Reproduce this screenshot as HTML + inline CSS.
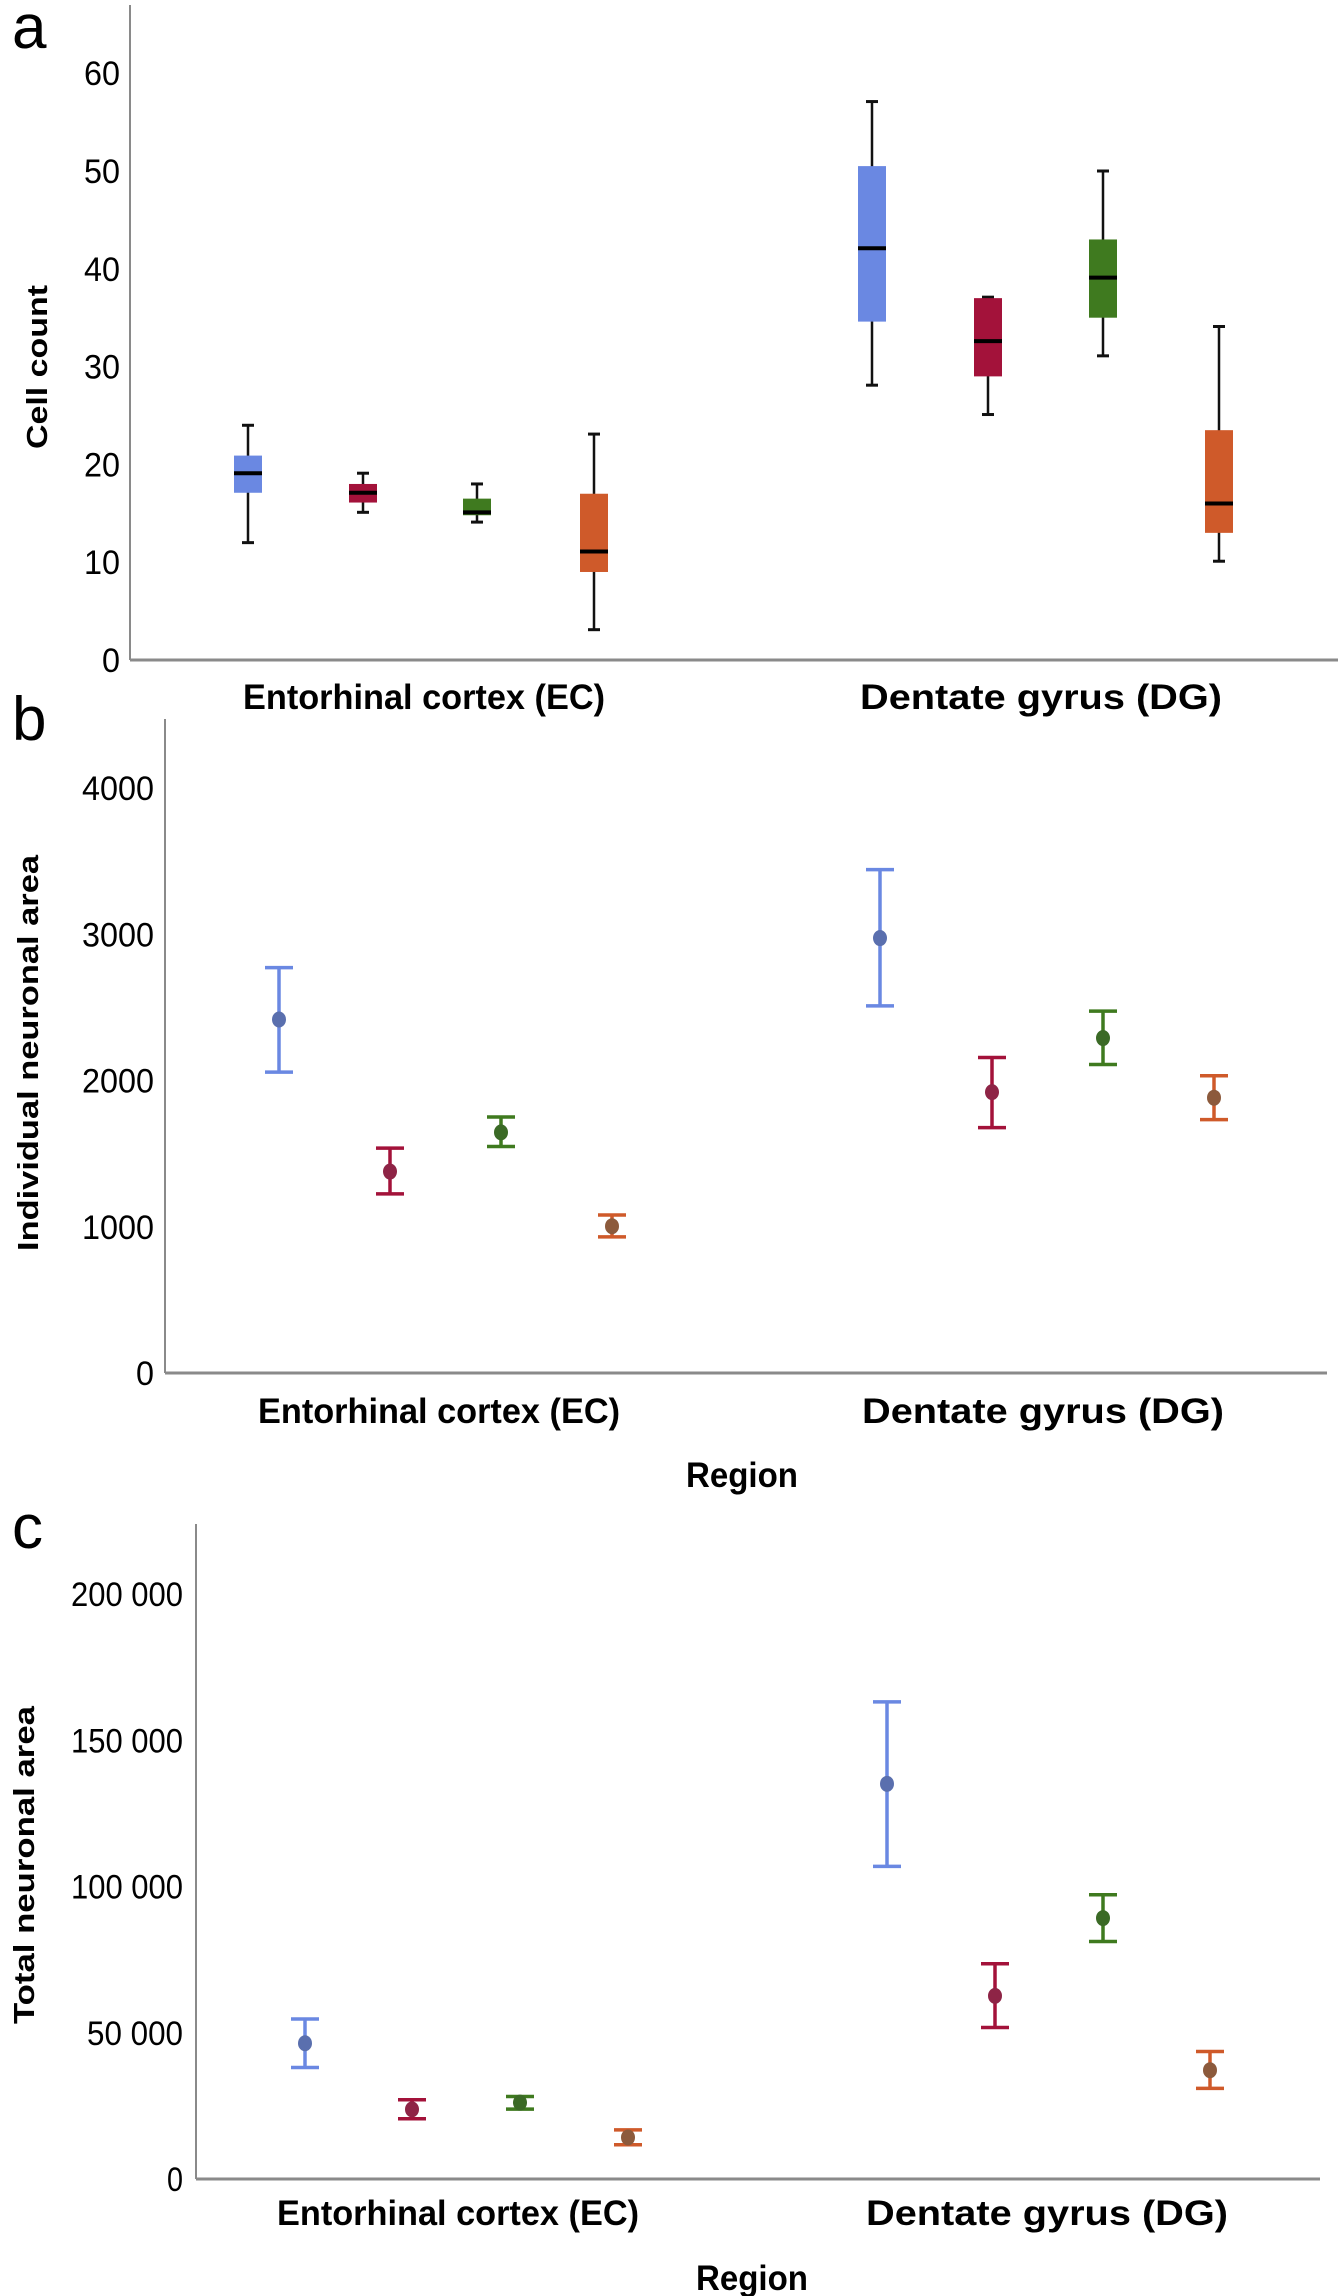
<!DOCTYPE html>
<html><head><meta charset="utf-8"><style>
html,body{margin:0;padding:0;background:#fff;}
svg{display:block;}
text{font-family:"Liberation Sans",Arial,sans-serif;fill:#000;}
</style></head><body>
<svg id="fig" width="1341" height="2296" viewBox="0 0 1341 2296" xmlns="http://www.w3.org/2000/svg"></svg>
<script>
// ---- Panel a data (box plots) ----
const aCategories = ["Entorhinal cortex (EC)", "Dentate gyrus (DG)"];
const aTicks = [0, 10, 20, 30, 40, 50, 60];
const aMin    = [12.0, 15.1, 14.1, 3.1, 28.1, 25.1, 31.1, 10.1];
const aQ1     = [17.1, 16.1, 14.8, 9.0, 34.6, 29.0, 35.0, 13.0];
const aMedian = [19.1, 17.1, 15.1, 11.1, 42.1, 32.6, 39.1, 16.0];
const aQ3     = [20.9, 18.0, 16.5, 17.0, 50.5, 37.0, 43.0, 23.5];
const aMax    = [24.0, 19.1, 18.0, 23.1, 57.1, 37.1, 50.0, 34.1];
// ---- Panel b data (mean ± error) ----
const bTicks = [0, 1000, 2000, 3000, 4000];
const bMean = [2418, 1378, 1646, 1004, 2975, 1921, 2291, 1883];
const bLow  = [2058, 1225, 1549, 931, 2511, 1678, 2110, 1733];
const bHigh = [2773, 1538, 1751, 1081, 3443, 2158, 2475, 2033];
// ---- Panel c data ----
const cTicks = [0, 50000, 100000, 150000, 200000];
const cTickLabels = ["0", "50 000", "100 000", "150 000", "200 000"];
const cMean = [46400, 23800, 26100, 14200, 135100, 62600, 89200, 37200];
const cLow  = [38100, 20600, 23900, 11700, 106900, 51800, 81200, 31000];
const cHigh = [54700, 27100, 28200, 16800, 163100, 73600, 97200, 43600];

const colors = ["#6a88e2", "#a3123a", "#3f7a1f", "#cf5a2a"];
const dotColors = ["#5a6fae", "#8e2446", "#3b6a26", "#8c5a3c"];
const NS = "http://www.w3.org/2000/svg";
const svg = document.getElementById("fig");
function el(tag, attrs, parent) {
  const e = document.createElementNS(NS, tag);
  for (const k in attrs) e.setAttribute(k, attrs[k]);
  (parent || svg).appendChild(e);
  return e;
}
function txt(s, attrs, parent) { const t = el("text", attrs, parent); t.textContent = s; return t; }

function panel(cfg) {
  const g = el("g", {});
  
  
  const y = v => cfg.y0 - (v - 0) * cfg.pxPerUnit;
  const L = txt(cfg.letter, {x: 12, y: cfg.letterY, "font-size": 62}, g);
  
  
  const ya = el("line", {x1: cfg.ax, y1: cfg.axTop, x2: cfg.ax, y2: cfg.y0, stroke: "#8a8a8a", "stroke-width": 2}, g);
  
  
  const xa = el("line", {x1: cfg.ax, y1: cfg.y0, x2: cfg.axRight, y2: cfg.y0, stroke: "#8a8a8a", "stroke-width": 3}, g);
  
  
  cfg.ticks.forEach((t, i) => {
    const lab = cfg.tickLabels ? cfg.tickLabels[i] : String(t);
    const w = lab.length * cfg.charW;
    const tt = txt(lab, {x: cfg.tickRight, y: y(t) + 12, "font-size": 34, "text-anchor": "end", textLength: w, lengthAdjust: "spacingAndGlyphs"}, g);
    
    
  });
  const yt = txt(cfg.yTitle, {x: 0, y: 0, "font-size": 29, "font-weight": "bold", "text-anchor": "middle", transform: `translate(${cfg.yTitleX},${cfg.yTitleY}) rotate(-90)`, textLength: cfg.yTitleLen, lengthAdjust: "spacingAndGlyphs"}, g);
  
  
  aCategories.forEach((c, i) => {
    const ct = txt(c, {x: cfg.catX[i], y: cfg.catY, "font-size": 35, "font-weight": "bold", "text-anchor": "middle", textLength: 362, lengthAdjust: "spacingAndGlyphs"}, g);
    
    
  });
  if (cfg.regionY) {
    const rt = txt("Region", {x: cfg.regionX, y: cfg.regionY, "font-size": 35, "font-weight": "bold", "text-anchor": "middle", textLength: 112, lengthAdjust: "spacingAndGlyphs"}, g);
    
    
  }
  return {g, y};
}

const pa = panel({name: "panel-a-cell-count", letter: "a", letterY: 48, ax: 130, axTop: 5, axRight: 1338, y0: 660, pxPerUnit: 9.78,
  ticks: aTicks, charW: 18, tickRight: 120, yTitle: "Cell count", yTitleX: 47, yTitleY: 367, yTitleLen: 164,
  catX: [424, 1041], catY: 709});
const aX = [248, 363, 477, 594, 872, 988, 1103, 1219];
aMedian.forEach((m, i) => {
  const y = pa.y, x = aX[i], c = colors[i % 4];
  const w = el("line", {x1: x, y1: y(aMax[i]), x2: x, y2: y(aMin[i]), stroke: "#111", "stroke-width": 2.5}, pa.g);
  
  
  [aMax[i], aMin[i]].forEach(v => {
    const cap = el("line", {x1: x - 6, y1: y(v), x2: x + 6, y2: y(v), stroke: "#111", "stroke-width": 3}, pa.g);
    
    
  });
  const b = el("rect", {x: x - 14, y: y(aQ3[i]), width: 28, height: y(aQ1[i]) - y(aQ3[i]), fill: c}, pa.g);
  
  
  const md = el("line", {x1: x - 14, y1: y(m), x2: x + 14, y2: y(m), stroke: "#000", "stroke-width": 4}, pa.g);
  
  
});

function errPanel(p, xs, mean, lo, hi) {
  mean.forEach((m, i) => {
    const y = p.y, x = xs[i], c = colors[i % 4];
    const ln = el("line", {x1: x, y1: y(hi[i]), x2: x, y2: y(lo[i]), stroke: c, "stroke-width": 3.5}, p.g);
    
    
    [hi[i], lo[i]].forEach(v => {
      const cap = el("line", {x1: x - 14, y1: y(v), x2: x + 14, y2: y(v), stroke: c, "stroke-width": 3.5}, p.g);
      
      
    });
    const d = el("ellipse", {cx: x, cy: y(m), rx: 7, ry: 8, fill: dotColors[i % 4]}, p.g);
    
    
  });
}

const pb = panel({name: "panel-b-individual-area", letter: "b", letterY: 740, ax: 165, axTop: 719, axRight: 1327, y0: 1373, pxPerUnit: 0.1462,
  ticks: bTicks, charW: 18, tickRight: 154, yTitle: "Individual neuronal area", yTitleX: 38, yTitleY: 1053, yTitleLen: 396,
  catX: [439, 1043], catY: 1423, regionX: 742, regionY: 1487});
errPanel(pb, [279, 390, 501, 612, 880, 992, 1103, 1214], bMean, bLow, bHigh);

const pc = panel({name: "panel-c-total-area", letter: "c", letterY: 1548, ax: 196, axTop: 1524, axRight: 1320, y0: 2179, pxPerUnit: 0.002925,
  ticks: cTicks, tickLabels: cTickLabels, charW: 16, tickRight: 183, yTitle: "Total neuronal area", yTitleX: 34, yTitleY: 1865, yTitleLen: 318,
  catX: [458, 1047], catY: 2225, regionX: 752, regionY: 2290});
errPanel(pc, [305, 412, 520, 628, 887, 995, 1103, 1210], cMean, cLow, cHigh);
</script>
</body></html>
